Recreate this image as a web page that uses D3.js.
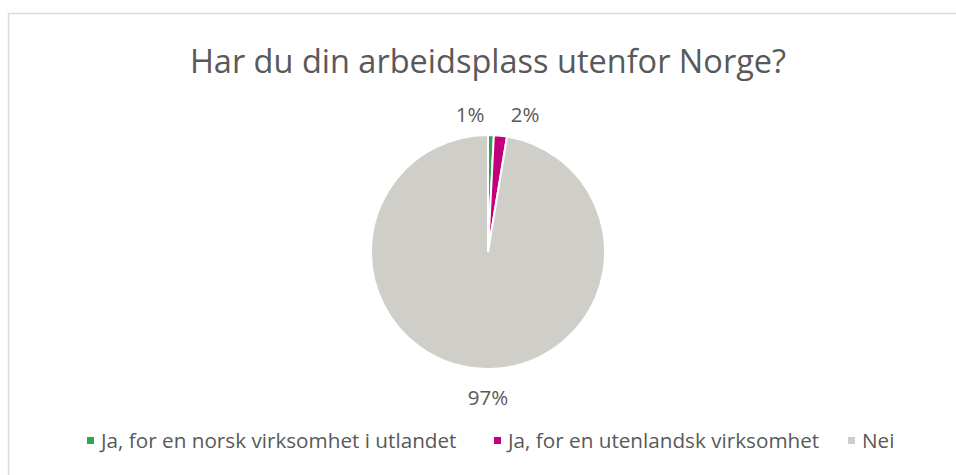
<!DOCTYPE html>
<html><head><meta charset="utf-8">
<script src="https://cdn.jsdelivr.net/npm/d3@7"></script>
<style>body{margin:0;background:#fff}</style>
</head><body>
<svg id="c" width="956" height="475"></svg>
<script>
const title = "Har du din arbeidsplass utenfor Norge?";
const categories = ["Ja, for en norsk virksomhet i utlandet", "Ja, for en utenlandsk virksomhet", "Nei"];
const values = [0.8, 1.8, 97.4];
const colors = ["#2fa64f", "#c3007b", "#d0cec8"];
const labelText = ["1%", "2%", "97%"];

const svg = d3.select("#c");
const font = "'Open Sans', sans-serif";
const txt = "#595959";

svg.append("rect").attr("x", 8.5).attr("y", 13.5).attr("width", 1000).attr("height", 1000)
  .attr("fill", "#fff").attr("stroke", "#d9d9d9").attr("stroke-width", 1.5);

svg.append("text").attr("x", 488).attr("y", 73).attr("text-anchor", "middle")
  .attr("font-family", font).attr("font-size", 32.5).attr("fill", txt).text(title);

const cx = 488, cy = 252, r = 117;
const pie = d3.pie().sort(null).value(d => d)(values);
const arc = d3.arc().innerRadius(0).outerRadius(r);
const g = svg.append("g").attr("transform", `translate(${cx},${cy})`);
g.selectAll("path").data(pie).join("path")
  .attr("d", arc).attr("fill", (d, i) => colors[i])
  .attr("stroke", "#fff").attr("stroke-width", 2);

const labelPos = [[470, 122], [525, 122], [488, 405]];
svg.selectAll("text.lbl").data(labelText).join("text").attr("class", "lbl")
  .attr("x", (d, i) => labelPos[i][0]).attr("y", (d, i) => labelPos[i][1])
  .attr("text-anchor", "middle").attr("font-family", font).attr("font-size", 20.5)
  .attr("fill", txt).text(d => d);

const legX = [87, 494, 848];
const lg = svg.selectAll("g.leg").data(categories).join("g").attr("class", "leg")
  .attr("transform", (d, i) => `translate(${legX[i]},441)`);
lg.append("rect").attr("x", 0).attr("y", -4).attr("width", 7).attr("height", 7)
  .attr("fill", (d, i) => colors[i]);
lg.append("text").attr("x", 14).attr("y", 7).attr("font-family", font).attr("font-size", 20.7)
  .attr("fill", txt).text(d => d);
</script>
</body></html>
